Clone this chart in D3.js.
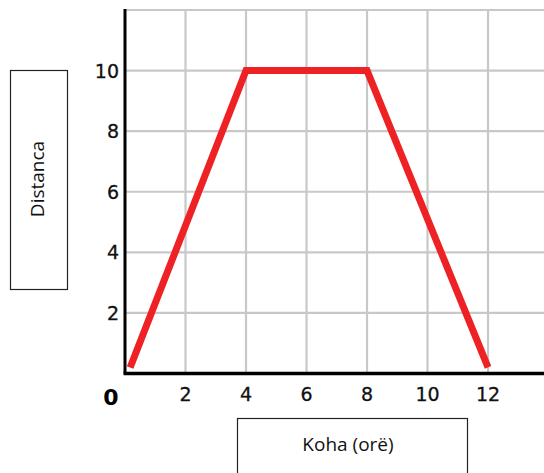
<!DOCTYPE html>
<html><head><meta charset="utf-8">
<script src="https://cdn.jsdelivr.net/npm/d3@7"></script>
<style>body{margin:0;background:#fff}svg{display:block}</style>
</head><body>
<script>
const hours = [0.17, 4, 8, 12];
const distance = [0.2, 10, 10, 0.2];
const xTicks = [2, 4, 6, 8, 10, 12];
const yTicks = [2, 4, 6, 8, 10];
const xGrid = [2, 4, 6, 8, 10, 12];
const yGrid = [2, 4, 6, 8, 10, 12];
const xLabel = "Koha (orë)";
const yLabel = "Distanca";

const W = 544, H = 473;
const svg = d3.select("body").append("svg").attr("width", W).attr("height", H);
const x = d3.scaleLinear().domain([0, 13.85]).range([125, 544]);
const y = d3.scaleLinear().domain([0, 12]).range([373.5, 10]);

svg.append("g").selectAll("line").data(xGrid).join("line")
  .attr("x1", d => x(d)).attr("x2", d => x(d)).attr("y1", y(12) - 1).attr("y2", y(0))
  .attr("stroke", "#c8c8c8").attr("stroke-width", 2.2);
svg.append("g").selectAll("line").data(yGrid).join("line")
  .attr("x1", x(0)).attr("x2", W).attr("y1", d => y(d)).attr("y2", d => y(d))
  .attr("stroke", "#c8c8c8").attr("stroke-width", 2.2);

svg.append("line").attr("x1", x(0)).attr("x2", x(0)).attr("y1", y(12) - 1).attr("y2", y(0))
  .attr("stroke", "#000").attr("stroke-width", 3);
svg.append("line").attr("x1", x(0) - 1.5).attr("x2", W).attr("y1", y(0)).attr("y2", y(0))
  .attr("stroke", "#000").attr("stroke-width", 3.5);

const font = "'DejaVu Sans', sans-serif";
svg.append("g").selectAll("text").data(xTicks).join("text")
  .attr("x", d => x(d)).attr("y", 401).attr("text-anchor", "middle")
  .attr("font-family", font).attr("font-size", 19).attr("fill", "#111")
  .attr("stroke", "#111").attr("stroke-width", 0.3)
  .text(d => d);
svg.append("g").selectAll("text").data(yTicks).join("text")
  .attr("x", 119).attr("y", d => y(d) + 7).attr("text-anchor", "end")
  .attr("font-family", font).attr("font-size", 19).attr("fill", "#111")
  .attr("stroke", "#111").attr("stroke-width", 0.3)
  .text(d => d);
svg.append("text").attr("x", 111).attr("y", 405).attr("text-anchor", "middle")
  .attr("font-family", font).attr("font-size", 22).attr("font-weight", "bold").attr("fill", "#000")
  .text("0");

svg.append("path").datum(hours.map((h, i) => [h, distance[i]]))
  .attr("d", d3.line().x(d => x(d[0])).y(d => y(d[1])))
  .attr("fill", "none").attr("stroke", "#ee2225").attr("stroke-width", 7)
  .attr("stroke-linejoin", "miter");

svg.append("rect").attr("x", 10.5).attr("y", 70.5).attr("width", 57).attr("height", 219)
  .attr("fill", "#fff").attr("stroke", "#222").attr("stroke-width", 1.2);
svg.append("text").attr("transform", "translate(44,179) rotate(-90)").attr("text-anchor", "middle")
  .attr("font-family", "'Open Sans', sans-serif").attr("font-size", 19).attr("fill", "#111")
  .text(yLabel);
svg.append("rect").attr("x", 237.5).attr("y", 418.5).attr("width", 230).attr("height", 60)
  .attr("fill", "#fff").attr("stroke", "#222").attr("stroke-width", 1.2);
svg.append("text").attr("x", 348).attr("y", 451).attr("text-anchor", "middle")
  .attr("font-family", "'Open Sans', sans-serif").attr("font-size", 19).attr("fill", "#111")
  .text(xLabel);
</script>
</body></html>
